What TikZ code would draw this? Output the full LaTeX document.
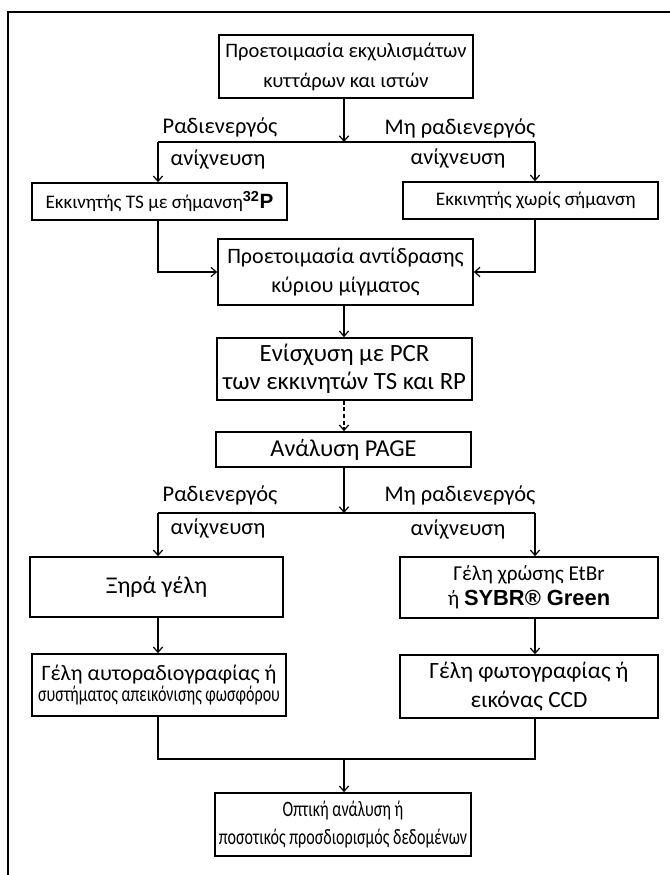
\documentclass[tikz,border=0pt]{standalone}
\usepackage{fontspec}
\setmainfont{Carlito}
\newfontfamily\boldsans{Liberation Sans}
\newfontfamily\narrowfont{Carlito}[FakeStretch=0.73]
\usetikzlibrary{arrows.meta}

% box given by its corners (x1,y1) (x2,y2) in pixel units
\newcommand\stagebox[7][]{%
  \node[stage,#1,
        minimum width={(#5-#3)*0.75pt},
        minimum height={(#6-#4)*0.75pt}]
       (#2) at ({(#3+#5)/2},{(#4+#6)/2}) {#7};}
\newcommand\fsz[2]{\fontsize{#1}{#2}\selectfont}

\begin{document}
\begin{tikzpicture}[x=0.75pt,y=-0.75pt,
  stage/.style={draw, line width=1.2pt, inner sep=0pt, align=center,
                font=\fsz{16.5}{22}},
  wire/.style={line width=1.2pt},
  link/.style={wire, -{Straight Barb[length=4pt,width=7pt,line width=0.9pt]}},
  tag/.style={inner sep=0pt, font=\fsz{16.8}{18}}]

\useasboundingbox (0,0) rectangle (670,875);

% outer frame (top and left sides)
\draw[wire] (8,875) -- (8,12) -- (670,12);

% boxes
\stagebox[font=\fsz{15.4}{22.5}]{b1}{219}{35}{473}{98}{Προετοιμασία εκχυλισμάτων\\κυττάρων και ιστών}
\stagebox[font=\fsz{14.4}{18}]{b2L}{32}{183}{287}{220}{Εκκινητής TS με σήμανση{\boldsans\bfseries\fsz{15.5}{18}\textsuperscript{32}P}}
\stagebox[font=\fsz{14.4}{18}]{b2R}{403}{182}{658}{219}{\hspace*{8pt}Εκκινητής χωρίς σήμανση}
\stagebox[font=\fsz{16.5}{21.5}]{b3}{218}{239}{473}{305}{Προετοιμασία αντίδρασης\\κύριου μίγματος}
\stagebox[font=\fsz{18.6}{21}]{b4}{217}{338}{472}{400}{Ενίσχυση με PCR\\των εκκινητών TS και RP}
\stagebox[font=\fsz{18.2}{20}]{b5}{216}{432}{471}{467}{Ανάλυση PAGE}
\stagebox[font=\fsz{18}{20}]{b6L}{30}{557}{283}{617}{Ξηρά γέλη}
\stagebox[font=\fsz{15.9}{19}]{b6R}{400}{557}{658}{618}{Γέλη χρώσης EtBr\\ή {\boldsans\bfseries\fsz{16.4}{19}SYBR® Green}}
\stagebox[font=\fsz{16.5}{16}]{b7L}{32}{654}{286}{716}{Γέλη αυτοραδιογραφίας ή\\{\narrowfont\fsz{16.5}{16}συστήματος απεικόνισης φωσφόρου}}
\stagebox[font=\fsz{17.5}{22}]{b7R}{400}{655}{658}{718}{Γέλη φωτογραφίας ή\\εικόνας CCD}
\stagebox[font=\fsz{16.5}{21}\narrowfont]{b8}{215}{793}{471}{856}{Οπτική ανάλυση ή\\ποσοτικός προσδιορισμός δεδομένων}

% branch labels
\node[tag] (r1a) at (220,127) {Ραδιενεργός};
\node[tag] (r1b) at (218,159) {ανίχνευση};
\node[tag] (n1a) at (460,128) {Μη ραδιενεργός};
\node[tag] (n1b) at (458,158) {ανίχνευση};
\node[tag] (r2a) at (220,495) {Ραδιενεργός};
\node[tag] (r2b) at (218,528) {ανίχνευση};
\node[tag] (n2a) at (460,495) {Μη ραδιενεργός};
\node[tag] (n2b) at (458,529) {ανίχνευση};

% split and merge points
\coordinate (s1L) at (158,142);
\coordinate (s1R) at (535,142);
\coordinate (s2L) at (158,513);
\coordinate (s2R) at (535,513);
\coordinate (mL) at (158,759);
\coordinate (mR) at (535,759);

% first split
\draw[wire] (s1L) -- (s1R);
\draw[link] (b1.south -| 344,0) -- (344,142);
\draw[link] (s1L) -- (s1L |- b2L.north);
\draw[link] (s1R) -- (s1R |- b2R.north);

% both primers join the master mix
\draw[link] (b2L.south -| s1L) |- (b3.west);
\draw[link] (b2R.south -| s1R) |- (b3.east);

% main column
\draw[link] (b3.south -| 344,0) -- (b4.north -| 344,0);
\draw[link, dash pattern=on 3pt off 2pt] (b4.south -| 344,0) -- (b5.north -| 344,0);
\draw[link] (b5.south -| 344,0) -- (344,513);

% second split
\draw[wire] (s2L) -- (s2R);
\draw[link] (s2L) -- (s2L |- b6L.north);
\draw[link] (s2R) -- (s2R |- b6R.north);
\draw[link] (b6L.south -| s2L) -- (s2L |- b7L.north);
\draw[link] (b6R.south -| s2R) -- (s2R |- b7R.north);

% merge into the final analysis
\draw[wire] (b7L.south -| mL) -- (mL) -- (mR) -- (b7R.south -| mR);
\draw[link] (344,759) -- (b8.north -| 344,0);

\end{tikzpicture}
\end{document}
